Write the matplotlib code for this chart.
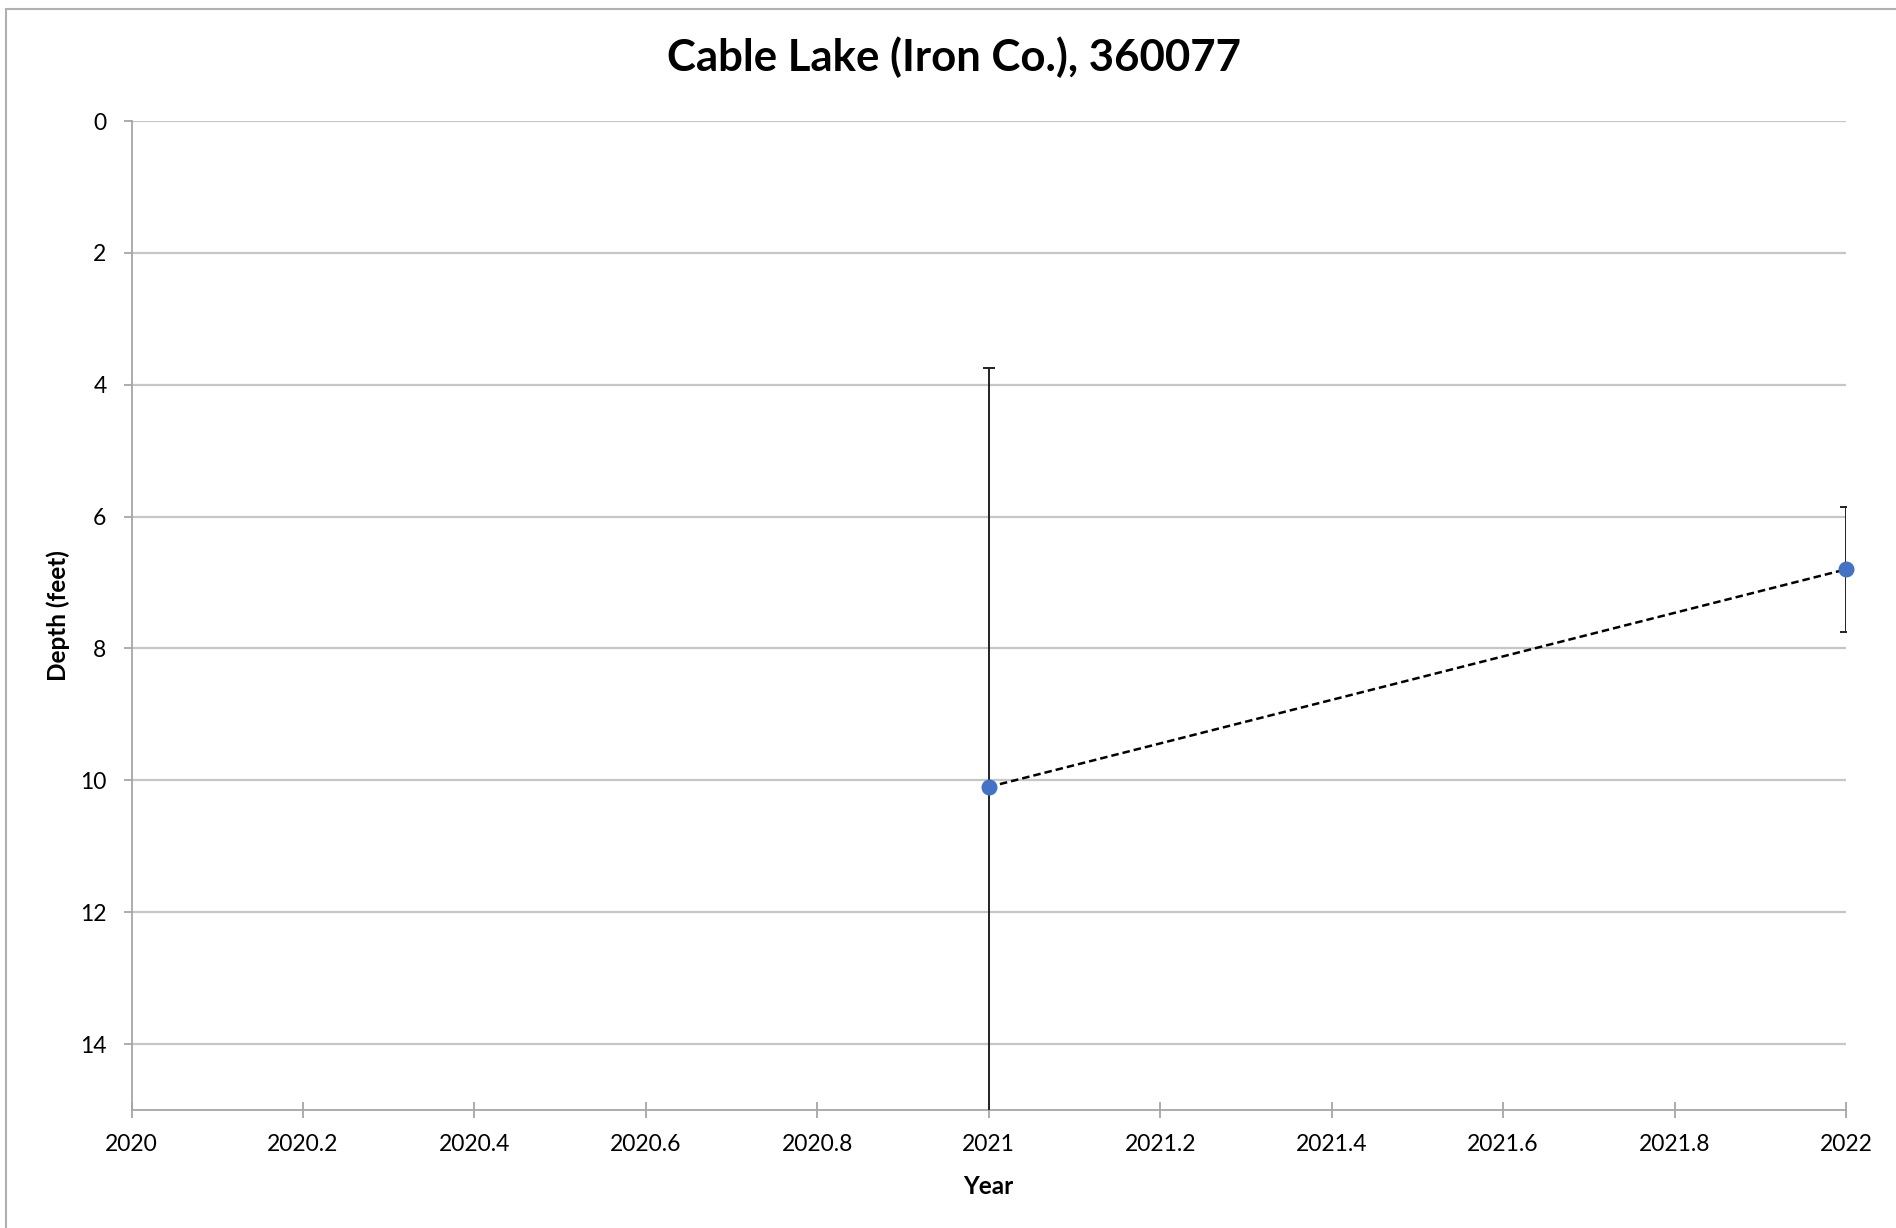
import matplotlib
matplotlib.use("Agg")
import matplotlib.pyplot as plt
from matplotlib.patches import Rectangle

# data
years = [2021, 2022]
depth = [10.1, 6.8]
depth_err = [6.35, 0.95]

x_ticks = [2020, 2020.2, 2020.4, 2020.6, 2020.8, 2021, 2021.2, 2021.4, 2021.6, 2021.8, 2022]
x_labels = ["2020", "2020.2", "2020.4", "2020.6", "2020.8", "2021",
            "2021.2", "2021.4", "2021.6", "2021.8", "2022"]
y_ticks = [0, 2, 4, 6, 8, 10, 12, 14]

plt.rcParams['font.family'] = ['Lato', 'DejaVu Sans']

fig = plt.figure(figsize=(18.96, 12.28), dpi=100)
ax = fig.add_axes([131.5 / 1896, 1 - 1110 / 1228, (1846 - 131.5) / 1896, (1110 - 121) / 1228])

# outer chart border (Excel style)
fig.patches.append(Rectangle((6 / 1896, -0.05), 1.2, 1 - 9 / 1228 + 0.05,
                             transform=fig.transFigure, fill=False,
                             edgecolor="#b0b0b0", linewidth=1.5))

# error bars
ax.errorbar(years, depth, yerr=depth_err, fmt='none', ecolor='#222222',
            elinewidth=1.4, capsize=4.5, capthick=1.4, zorder=3)
# trend line + markers
ax.plot(years, depth, linestyle=(0, (3, 1.6)), color='black', linewidth=1.8, zorder=4)
ax.plot(years, depth, linestyle='none', marker='o', markersize=10.5,
        color='#4472C4', zorder=5, clip_on=False)

ax.set_xlim(2020, 2022)
ax.set_ylim(15, 0)
ax.set_xticks(x_ticks)
ax.set_xticklabels(x_labels)
ax.set_yticks(y_ticks)

ax.grid(axis='y', color='#c6c6c6', linewidth=1.6)
ax.set_axisbelow(True)
for s in ['top', 'right']:
    ax.spines[s].set_visible(False)
for s in ['left', 'bottom']:
    ax.spines[s].set_color('#a6a6a6')
    ax.spines[s].set_linewidth(1.3)

ax.tick_params(axis='x', direction='inout', length=11, width=1.3, color='#a6a6a6',
               labelsize=16.5, pad=12)
ax.tick_params(axis='y', direction='out', length=6, width=1.3, color='#a6a6a6',
               labelsize=16.5, pad=12)

ax.set_xlabel("Year", fontsize=17.5, fontweight='bold', labelpad=14)
ax.set_ylabel("Depth (feet)", fontsize=17.5, fontweight='bold', labelpad=7)
fig.text(0.503, 0.953, "Cable Lake (Iron Co.), 360077", ha='center', va='center',
         fontsize=31.5, fontweight='bold')

fig.savefig("out.png", dpi=100)
